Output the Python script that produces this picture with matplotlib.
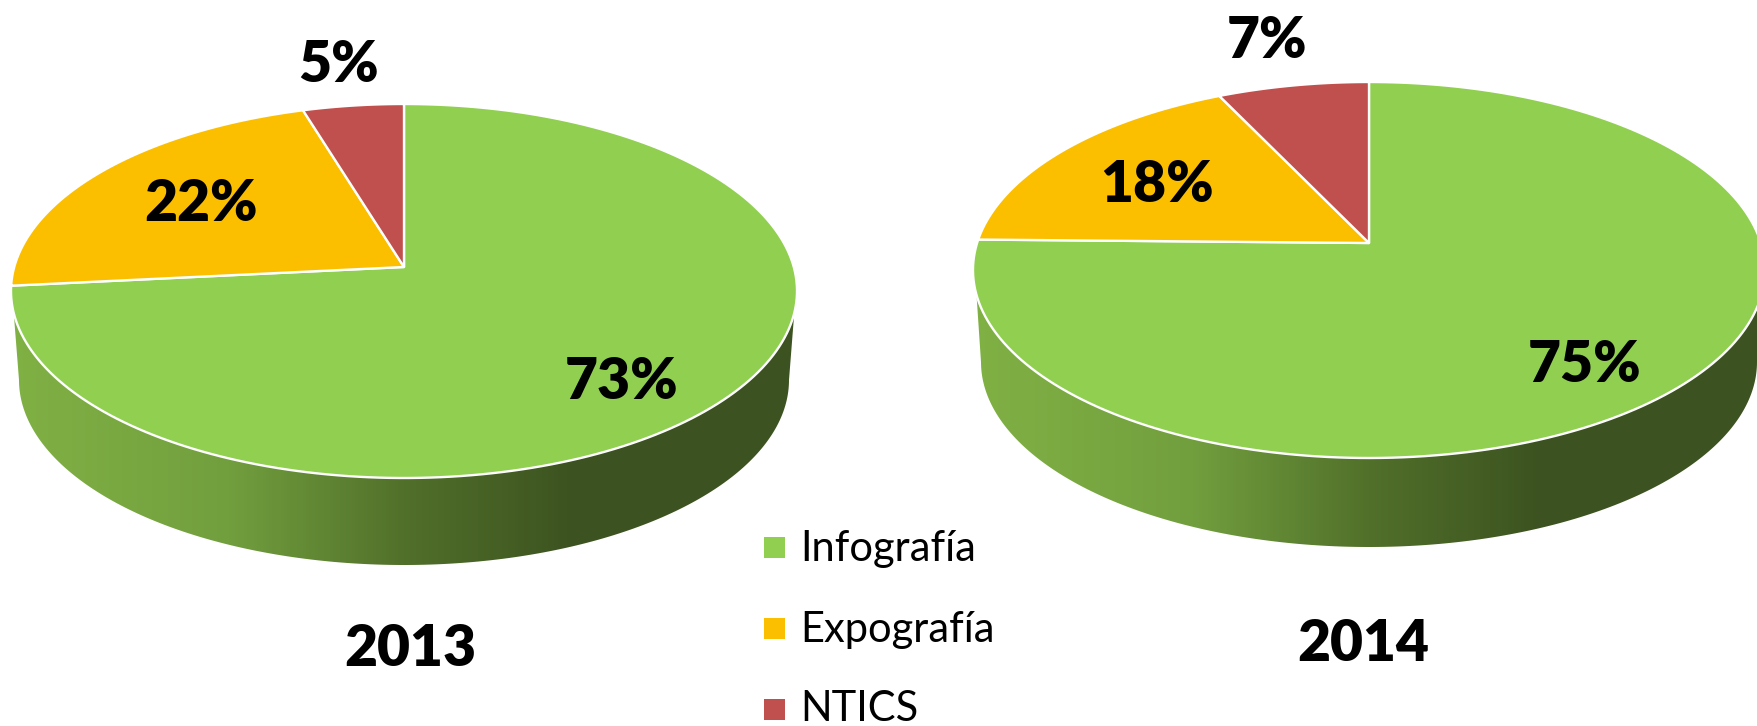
import numpy as np
import matplotlib
matplotlib.use('Agg')
import matplotlib.pyplot as plt
from matplotlib.colors import LinearSegmentedColormap
from matplotlib.patches import Polygon, Rectangle

# shares, the labels round them as printed
categories = ['Infografía', 'Expografía', 'NTICS']
values_2013 = [73.4, 21.9, 4.7]
values_2014 = [75.3, 17.6, 7.1]
labels_2013 = ['73%', '22%', '5%']
labels_2014 = ['75%', '18%', '7%']
years = ['2013', '2014']

colors = ['#90CF50', '#FCBF00', '#C0504D']
WIDTH, HEIGHT = 1758, 726

wall_cmap = LinearSegmentedColormap.from_list('wall', [
    (0.0, '#80B144'), (0.275, '#729F3E'), (0.5, '#51702A'),
    (0.72, '#3C5220'), (1.0, '#3C5220')])

plt.rcParams['font.family'] = ['Lato', 'DejaVu Sans']
fig = plt.figure(figsize=(WIDTH / 100, HEIGHT / 100), dpi=100)
ax = fig.add_axes([0, 0, 1, 1])


def make_project(cx, top, bottom, rx, apex_y):
    # tilted circle: apex is not at the middle of the ellipse
    up = apex_y - top
    down = bottom - apex_y
    a = 2 / (1 / up + 1 / down)
    k = a / up - 1
    b = rx * np.sqrt(1 - k ** 2)

    def project(share):
        theta = np.radians(np.asarray(share) * 3.6)
        w = 1 + k * np.cos(theta)
        return cx + b * np.sin(theta) / w, apex_y - a * np.cos(theta) / w
    return project


def draw_pie(values, labels, year, cx, top, bottom, rx, apex_y, wall_y,
             low_cy, low_rx, low_ry, label_pos, year_pos):
    cy = (top + bottom) / 2
    ry = (bottom - top) / 2

    # side wall with left to right gradient
    t0 = np.arcsin((wall_y - cy) / ry)
    t = np.linspace(t0, np.pi - t0, 200)
    s = np.linspace(np.pi, 0, 200)
    wall_x = np.concatenate([cx + rx * np.cos(t), cx + low_rx * np.cos(s)])
    wall_yy = np.concatenate([cy + ry * np.sin(t), low_cy + low_ry * np.sin(s)])
    wall = Polygon(np.column_stack([wall_x, wall_yy]), closed=True,
                   facecolor='none', edgecolor='none')
    ax.add_patch(wall)
    grad = np.linspace(0, 1, 256).reshape(1, -1)
    im = ax.imshow(grad, cmap=wall_cmap, aspect='auto', zorder=1,
                   extent=[cx - rx, cx + rx, low_cy + low_ry + 2, wall_y - 60])
    im.set_clip_path(wall)

    # top face, clockwise from 12 o'clock
    project = make_project(cx, top, bottom, rx, apex_y)
    start = 0
    for val, col in zip(values, colors):
        shares = np.linspace(start, start + val, 200)
        px, py = project(shares)
        xs = np.concatenate([[cx], px])
        ys = np.concatenate([[apex_y], py])
        ax.add_patch(Polygon(np.column_stack([xs, ys]), closed=True, facecolor=col,
                             edgecolor='white', linewidth=1.7, joinstyle='round', zorder=2))
        start += val

    for lab, (lx, ly) in zip(labels, label_pos):
        ax.text(lx, ly, lab, fontsize=41, fontweight='heavy', color='black',
                ha='center', va='center', zorder=3)
    ax.text(year_pos[0], year_pos[1], year, fontsize=41, fontweight='heavy',
            color='black', ha='center', va='center', zorder=3)


draw_pie(values_2013, labels_2013, years[0], 404, 104, 478, 393, 267, 313,
         380, 385, 185, [(622, 382), (201, 204), (339, 65)], (410, 649))
draw_pie(values_2014, labels_2014, years[1], 1369, 82, 458, 396, 243, 295,
         362, 388, 185, [(1585, 365), (1157, 185), (1267, 41)], (1363, 644))

# legend
legend_y = [547, 628.5, 709.5]
text_base = [561, 642, 721]
for name, col, y, base in zip(categories, colors, legend_y, text_base):
    ax.add_patch(Rectangle((764, y - 10.5), 21.5, 21, facecolor=col, edgecolor='none'))
    ax.text(800, base, name, fontsize=30, color='black', ha='left', va='baseline')

ax.set_xlim(0, WIDTH)
ax.set_ylim(HEIGHT, 0)
ax.axis('off')
fig.savefig('out.png', dpi=100, facecolor='white')
